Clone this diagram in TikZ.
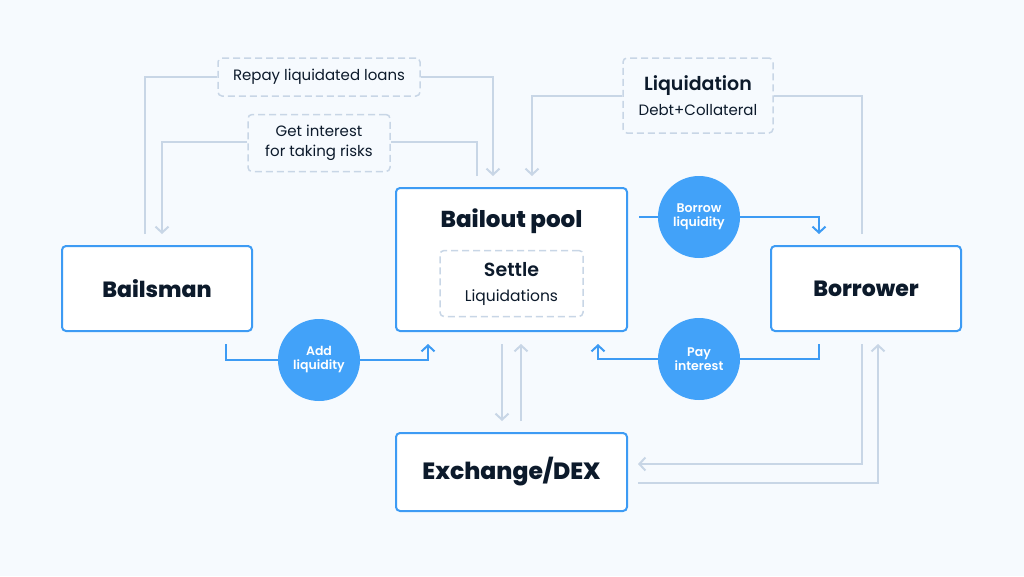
\documentclass[tikz,border=0pt]{standalone}
\usepackage{fontspec}
\setmainfont{Poppins}
\newfontfamily\semifont{Poppins SemiBold}
\newfontfamily\heavyfont{Poppins ExtraBold}
\usepackage{tikz}
\usetikzlibrary{calc,positioning,arrows.meta}
\definecolor{bg}{HTML}{F6FAFE}
\definecolor{poolblue}{HTML}{3D9BF4}
\definecolor{dotblue}{HTML}{42A2F9}
\definecolor{pale}{HTML}{C8D6E6}
\definecolor{ink}{HTML}{0C1A2B}

\begin{document}
\begin{tikzpicture}[x=1pt,y=-1pt,
		>={Straight Barb[length=6pt,width=13pt]},
		box/.style={shape=rectangle,draw=poolblue,fill=white,line width=2pt,rounded corners=4pt,text=ink,font=\heavyfont\fontsize{22}{26}\selectfont},
		note/.style={shape=rectangle,draw=pale,dash pattern=on 7pt off 4pt,line width=1.5pt,rounded corners=4pt,text=ink,align=center,font=\fontsize{15}{20}\selectfont},
		dot/.style={shape=circle,fill=dotblue,minimum size=82pt,inner sep=0pt,text=white,align=center,font=\semifont\fontsize{12.5}{14}\selectfont},
		pale line/.style={draw=pale,line width=2pt},
		blue line/.style={draw=poolblue,line width=2pt}]
		\fill[bg] (0,0) rectangle (1024,576);
		% main boxes
		\node(pool) [box,minimum width=231pt,minimum height=143pt] at (511.5,259.5) {};
		\node(pooltitle) at ([yshift=-34pt]pool.north) [text=ink,font=\heavyfont\fontsize{23}{26}\selectfont] {Bailout pool};
		\node(settle) at ([yshift=-24pt]pool.center) [note,minimum width=143pt,minimum height=66pt,font=\fontsize{15.5}{25}\selectfont] {{\semifont\fontsize{19}{20}\selectfont Settle}\\Liquidations};
		\node(dex) [below=100pt of pool,box,minimum width=231pt,minimum height=78pt,font=\heavyfont\fontsize{23.5}{26}\selectfont] {Exchange/DEX};
		\node(bailsman) [left=142pt of pool.south west,anchor=south east,box,minimum width=190pt,minimum height=85pt] {Bailsman};
		\node(borrower) [right=142pt of pool.south east,anchor=south west,box,minimum width=190pt,minimum height=85pt] {Borrower};
		% dashed labels
		\node(repay) [note,minimum width=202pt,minimum height=38pt] at (319,77) {Repay liquidated loans};
		\node(getint) [note,minimum width=142pt,minimum height=57pt] at (319,143) {Get interest\\for taking risks};
		\node(liq) [note,minimum width=150pt,minimum height=75pt,font=\fontsize{15}{25}\selectfont] at (698,95.5) {{\semifont\fontsize{19}{20}\selectfont Liquidation}\\Debt+Collateral};
		% round labels
		\node(addliq) [dot] at (319,360) {Add\\liquidity};
		\node(borrow) [dot] at (699,217) {Borrow\\liquidity};
		\node(pay) [dot] at (699,359) {Pay\\interest};
		\coordinate(poolout) at ($(pool.east |- borrow)+(11,0)$);
		% pale flows
		\draw[pale line] ([xshift=-12pt,yshift=11pt]bailsman.north) |- (repay.west);
		\draw[pale line,->] (repay.east) -| ([xshift=-18.5pt,yshift=11pt]pool.north);
		\draw[pale line] ([xshift=-34.5pt,yshift=11pt]pool.north) |- ([yshift=1.5pt]getint.east);
		\draw[pale line,->] ([yshift=1.5pt]getint.west) -| ([xshift=5pt,yshift=11pt]bailsman.north);
		\draw[pale line] ([xshift=-4pt,yshift=11pt]borrower.north) |- (liq.east);
		\draw[pale line,->] (liq.west) -| ([xshift=20.5pt,yshift=11pt]pool.north);
		\draw[pale line,->] ([xshift=-9.5pt,yshift=-12pt]pool.south) -- ([xshift=-9.5pt,yshift=11pt]dex.north);
		\draw[pale line,->] ([xshift=9.5pt,yshift=11pt]dex.north) -- ([xshift=9.5pt,yshift=-12pt]pool.south);
		\draw[pale line,->] ([xshift=-4pt,yshift=-12pt]borrower.south) |- ([xshift=10pt,yshift=8pt]dex.east);
		\draw[pale line,->] ([xshift=10pt,yshift=-11pt]dex.east) -| ([xshift=12pt,yshift=-12pt]borrower.south);
		% blue flows
		\draw[blue line] ([xshift=69pt,yshift=-12pt]bailsman.south) |- (addliq.west);
		\draw[blue line,->] (addliq.east) -| ([xshift=-83.5pt,yshift=-12pt]pool.south);
		\draw[blue line] (poolout) -- (borrow.west);
		\draw[blue line,->] (borrow.east) -| ([xshift=-47pt,yshift=11pt]borrower.north);
		\draw[blue line] ([xshift=-47pt,yshift=-12pt]borrower.south) |- (pay.east);
		\draw[blue line,->] (pay.west) -| ([xshift=86.5pt,yshift=-12pt]pool.south);
	\end{tikzpicture}
\end{document}
